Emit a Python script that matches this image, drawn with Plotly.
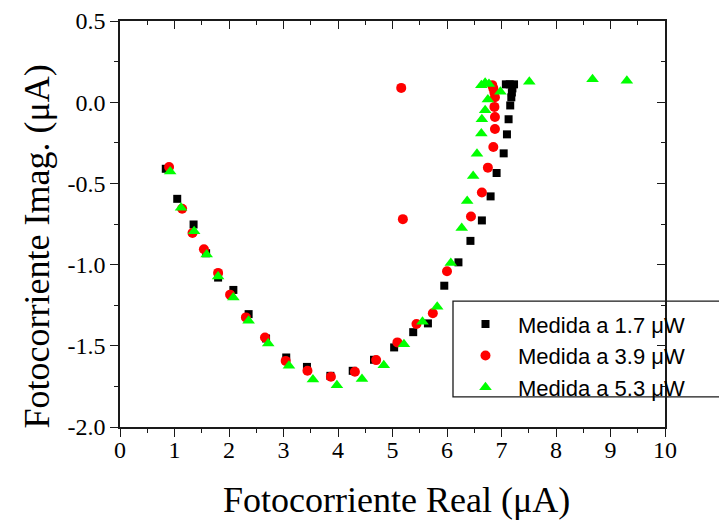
import plotly.graph_objects as go

# Real / imaginary photocurrent (µA) for three optical powers
real_17 = [0.84, 1.05, 1.35, 1.58, 1.80, 2.08, 2.36, 2.68, 3.05, 3.43, 3.86, 4.27, 4.66,
           5.03, 5.38, 5.65, 5.95, 6.21, 6.43, 6.64, 6.80, 6.91, 7.04, 7.10, 7.13, 7.16,
           7.18, 7.19, 7.20, 7.08, 7.15, 7.23]
imag_17 = [-0.41, -0.595, -0.753, -0.93, -1.08, -1.156, -1.305, -1.455, -1.572, -1.63,
           -1.685, -1.654, -1.586, -1.51, -1.416, -1.362, -1.13, -0.986, -0.854, -0.728,
           -0.58, -0.436, -0.315, -0.198, -0.105, -0.02, 0.03, 0.06, 0.085, 0.11, 0.11, 0.11]

real_39 = [0.90, 1.14, 1.33, 1.54, 1.80, 2.02, 2.31, 2.66, 3.04, 3.44, 3.87, 4.31, 4.70,
           5.09, 5.44, 5.74, 6.00, 6.44, 6.64, 6.75, 6.85, 6.88, 6.88, 6.87, 6.88, 6.87,
           6.85, 6.83, 5.16, 5.19]
imag_39 = [-0.399, -0.656, -0.805, -0.905, -1.051, -1.185, -1.325, -1.449, -1.593, -1.654,
           -1.691, -1.660, -1.588, -1.479, -1.366, -1.300, -1.041, -0.704, -0.556, -0.403,
           -0.276, -0.165, -0.091, -0.029, 0.03, 0.06, 0.085, 0.105, 0.088, -0.72]

real_53 = [0.92, 1.12, 1.36, 1.59, 1.80, 2.08, 2.36, 2.72, 3.10, 3.54, 3.98, 4.44, 4.84,
           5.21, 5.55, 5.82, 6.07, 6.27, 6.37, 6.48, 6.55, 6.63, 6.64, 6.70, 6.75, 6.98,
           6.63, 6.70, 6.77, 7.51, 8.67, 9.30]
imag_53 = [-0.426, -0.650, -0.794, -0.938, -1.074, -1.202, -1.346, -1.486, -1.623, -1.708,
           -1.743, -1.704, -1.619, -1.49, -1.352, -1.259, -0.99, -0.774, -0.609, -0.455,
           -0.317, -0.193, -0.105, -0.049, 0.016, 0.064, 0.105, 0.119, 0.112, 0.126, 0.142,
           0.132]

series_names = ["Medida a 1.7 \u03bcW", "Medida a 3.9 \u03bcW", "Medida a 5.3 \u03bcW"]

y_ticks = [-2.0, -1.5, -1.0, -0.5, 0.0, 0.5]
y_tick_labels = ["-2.0", "-1.5", "-1.0", "-0.5", "0.0", "0.5"]

x_title = "Fotocorriente Real (\u03bcA)"
y_title = "Fotocorriente Imag. (\u03bcA)"

x_range = [0, 10]
y_range = [-2.0, 0.5]

SERIF = "Liberation Serif, Times New Roman, serif"
SANS = "Liberation Sans, Arial, sans-serif"
INK = "#1a1a1a"

fig = go.Figure()
fig.add_trace(go.Scatter(x=real_17, y=imag_17, mode="markers", name=series_names[0],
                         marker=dict(symbol="square", size=8, color="#000000")))
fig.add_trace(go.Scatter(x=real_39, y=imag_39, mode="markers", name=series_names[1],
                         marker=dict(symbol="circle", size=10, color="#ff0000")))
fig.add_trace(go.Scatter(x=real_53, y=imag_53, mode="markers", name=series_names[2],
                         marker=dict(symbol="triangle-up", size=11, color="#00ff00")))
# empty trace carrying the mirrored (top/right) tick axes
fig.add_trace(go.Scatter(x=[], y=[], xaxis="x2", yaxis="y2", showlegend=False,
                         hoverinfo="skip"))

axis_common = dict(showgrid=False, zeroline=False, linecolor=INK, linewidth=1.6,
                   tickcolor=INK, tickwidth=1.3, automargin=False)

fig.update_layout(
    width=719, height=522,
    margin=dict(l=120, r=54, t=21, b=95),
    paper_bgcolor="white", plot_bgcolor="white",
    showlegend=True,
    xaxis=dict(**axis_common, range=x_range, tickmode="linear", tick0=0, dtick=1,
               ticks="outside", ticklen=8, showline=True, mirror=True,
               ticklabelstandoff=-8,
               minor=dict(dtick=0.5, ticks="outside", ticklen=4, tickcolor=INK),
               tickfont=dict(family=SERIF, size=24, color="black")),
    yaxis=dict(**axis_common, range=y_range, tickmode="array", tickvals=y_ticks,
               ticktext=y_tick_labels, ticks="outside", ticklen=8, showline=True,
               mirror=True,
               minor=dict(dtick=0.25, tick0=0, ticks="outside", ticklen=4, tickcolor=INK),
               tickfont=dict(family=SERIF, size=24, color="black")),
    xaxis2=dict(**axis_common, overlaying="x", side="top", range=x_range,
                tickmode="linear", tick0=0, dtick=1, ticks="inside", ticklen=8,
                showline=False, showticklabels=False,
                minor=dict(dtick=0.5, ticks="inside", ticklen=4, tickcolor=INK)),
    yaxis2=dict(**axis_common, overlaying="y", side="right", range=y_range,
                tickmode="linear", tick0=0, dtick=0.5, ticks="inside", ticklen=8,
                showline=False, showticklabels=False,
                minor=dict(dtick=0.25, ticks="inside", ticklen=4, tickcolor=INK)),
    legend=dict(x=0.611, y=0.305, xanchor="left", yanchor="top",
                borderwidth=0, bgcolor="rgba(0,0,0,0)",
                itemwidth=55, font=dict(family=SANS, size=22, color="black")),
    shapes=[dict(type="rect", xref="paper", yref="paper", x0=0.611, x1=1.15,
                 y0=0.074, y1=0.31, line=dict(color=INK, width=1.3),
                 fillcolor="white", layer="below")],
    annotations=[
        dict(text=x_title, xref="paper", yref="paper", x=0.508, y=-0.18,
             xanchor="center", yanchor="middle", showarrow=False,
             font=dict(family=SERIF, size=36, color="black")),
        dict(text=y_title, xref="paper", yref="paper", x=-0.152, y=0.445,
             xanchor="center", yanchor="middle", textangle=-90, showarrow=False,
             font=dict(family=SERIF, size=36, color="black")),
    ],
)

fig.write_html("out.html")
